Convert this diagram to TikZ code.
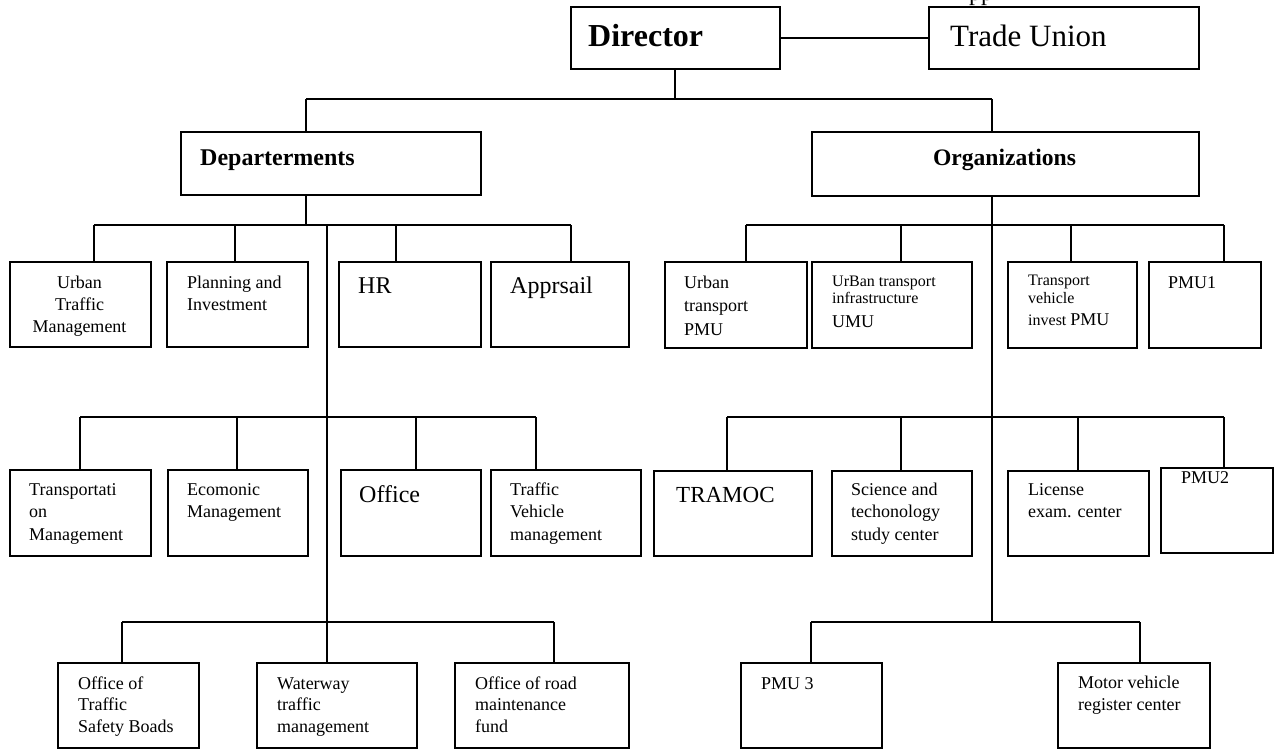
\documentclass[tikz,border=0pt]{standalone}
\usepackage{fontspec}
\setmainfont{Liberation Serif}
% box: name, x1, y1, x2, y2 (pixel-like units, y downwards)
\newcommand\orgbox[5]{%
  \node[box, anchor=north west, minimum width={#4-#2}, minimum height={#5-#3}] (#1) at (#2,#3) {};}
% left-aligned label: name, x, first baseline, size, line skip, lines
\newcommand\boxtext[6]{%
  \node[lbl, font=\fontsize{#4}{#5}\selectfont] (#1) at (#2,#3) {\begin{tabular}[t]{@{}l@{}}#6\end{tabular}};}
% drop line from a bus point down to the top of a box
\newcommand\drop[3]{%
  \coordinate (#1) at #2; \draw[wire] (#1) -- (#1 |- #3.north);}
\begin{document}
\begin{tikzpicture}[x=1pt,y=-1pt,
  box/.style={draw, line width=1.8pt, inner sep=0pt},
  wire/.style={line width=1.6pt},
  lbl/.style={inner sep=0pt, anchor=base west}]
\useasboundingbox (0,0) rectangle (1279,749);
\fill[white] (0,0) rectangle (1279,749);

% ---- top level ----
\begin{scope}
  \clip (0,0) rectangle (1279,749);
  \node[lbl, font=\fontsize{24}{28}\selectfont] (cut) at (969,0.5) {pp};
\end{scope}
\orgbox{dir}{570}{6}{779}{68}
\orgbox{tu}{928}{6}{1198}{68}
\node[lbl, font=\fontsize{32}{36}\selectfont\bfseries] (dir-t) at (588,47) {Director};
\node[lbl, font=\fontsize{31}{36}\selectfont] (tu-t) at (950,47) {Trade Union};
\draw[wire] (dir) -- (tu);

\orgbox{dept}{180}{131}{480}{194}
\orgbox{org}{811}{131}{1198}{195}
\node[lbl, font=\fontsize{24}{28}\selectfont\bfseries] (dept-t) at (200,165) {Departerments};
\node[inner sep=0pt, anchor=base, font=\fontsize{23.6}{28}\selectfont\bfseries] (org-t) at (1004.5,165) {Organizations};

\coordinate (b0) at (675,99);
\draw[wire] (b0 |- dir.south) -- (b0);
\coordinate (b0l) at (306,99);
\coordinate (b0r) at (992,99);
\draw[wire] (b0l) -- (b0r);
\draw[wire] (b0l) -- (b0l |- dept.north);
\draw[wire] (b0r) -- (b0r |- org.north);

% ---- departments, row 1 ----
\orgbox{utm}{9}{261}{150}{346}
\orgbox{pi}{166}{261}{307}{346}
\orgbox{hr}{338}{261}{480}{346}
\orgbox{app}{490}{261}{628}{346}
\node[inner sep=0pt, anchor=base, font=\fontsize{18}{22}\selectfont] (utm-t) at (79.5,288)
  {\begin{tabular}[t]{@{}c@{}}Urban\\Traffic\\Management\end{tabular}};
\boxtext{pi-t}{187}{288}{18}{22.5}{Planning and\\Investment}
\boxtext{hr-t}{358}{293}{24}{28}{HR}
\boxtext{app-t}{510}{293}{24}{28}{Apprsail}

\coordinate (d0) at (306,225);
\draw[wire] (dept.south -| d0) -- (d0);
\coordinate (d1l) at (94,225);
\coordinate (d1r) at (571,225);
\draw[wire] (d1l) -- (d1r);
\draw[wire] (d1l) -- (d1l |- utm.north);
\drop{j-pi}{(235,225)}{pi}
\drop{j-hr}{(396,225)}{hr}
\draw[wire] (d1r) -- (d1r |- app.north);

% trunk of the departments
\coordinate (dt) at (327,225);

% ---- departments, row 2 ----
\orgbox{tm}{9}{469}{150}{555}
\orgbox{em}{167}{469}{307}{555}
\orgbox{off}{340}{469}{480}{555}
\orgbox{tvm}{490}{469}{640}{555}
\boxtext{tm-t}{29}{495}{18}{22.5}{Transportati\\on\\Management}
\boxtext{em-t}{187}{495}{18}{22.5}{Ecomonic\\Management}
\boxtext{off-t}{359}{502}{24}{28}{Office}
\boxtext{tvm-t}{510}{495}{18}{22.5}{Traffic\\Vehicle\\management}

\coordinate (d2l) at (80,417);
\coordinate (d2r) at (536,417);
\draw[wire] (d2l) -- (d2r);
\draw[wire] (d2l) -- (d2l |- tm.north);
\drop{j-em}{(237,417)}{em}
\drop{j-off}{(416,417)}{off}
\draw[wire] (d2r) -- (d2r |- tvm.north);

% ---- departments, row 3 ----
\orgbox{otsb}{57}{662}{198}{747}
\orgbox{wtm}{256}{662}{416}{747}
\orgbox{orm}{454}{662}{628}{747}
\boxtext{otsb-t}{78}{689}{18}{21.5}{Office of\\Traffic\\Safety Boads}
\boxtext{wtm-t}{277}{689}{18}{21.5}{Waterway\\traffic\\management}
\boxtext{orm-t}{475}{689}{18}{21.5}{Office of road\\maintenance\\fund}

\coordinate (d3l) at (122,622);
\coordinate (d3r) at (554,622);
\draw[wire] (d3l) -- (d3r);
\draw[wire] (d3l) -- (d3l |- otsb.north);
\draw[wire] (d3r) -- (d3r |- orm.north);
\draw[wire] (dt) -- (dt |- wtm.north);

% ---- organizations, row 1 ----
\orgbox{utp}{664}{261}{806}{347}
\orgbox{uti}{811}{261}{971}{347}
\orgbox{tvi}{1007}{261}{1136}{347}
\orgbox{pmu1}{1148}{261}{1260}{347}
\boxtext{utp-t}{684}{288}{18}{23.5}{Urban\\transport\\PMU}
\boxtext{uti-t}{832}{286}{16}{17}{UrBan transport\\infrastructure\\[7pt]{\fontsize{18}{22}\selectfont UMU}}
\boxtext{tvi-t}{1028}{285}{16}{18}{Transport\\vehicle\\[4pt]invest {\fontsize{18}{22}\selectfont PMU}}
\boxtext{pmu1-t}{1168}{288}{18}{22}{PMU1}

\coordinate (o0) at (992,225);
\draw[wire] (org.south -| o0) -- (o0);
\coordinate (o1l) at (746,225);
\coordinate (o1r) at (1224,225);
\draw[wire] (o1l) -- (o1r);
\draw[wire] (o1l) -- (o1l |- utp.north);
\drop{j-uti}{(901,225)}{uti}
\drop{j-tvi}{(1071,225)}{tvi}
\draw[wire] (o1r) -- (o1r |- pmu1.north);

% ---- organizations, row 2 ----
\orgbox{tramoc}{653}{470}{811}{555}
\orgbox{sts}{831}{470}{971}{555}
\orgbox{lec}{1007}{470}{1148}{555}
\orgbox{pmu2}{1160}{467}{1272}{552}
\boxtext{tramoc-t}{676}{502}{23}{28}{TRAMOC}
\boxtext{sts-t}{851}{495}{18}{22.5}{Science and\\techonology\\study center}
\boxtext{lec-t}{1028}{495}{18}{22.5}{License\\exam. center}
\boxtext{pmu2-t}{1181}{483}{18}{22}{PMU2}

\coordinate (o2l) at (727,417);
\coordinate (o2r) at (1224,417);
\draw[wire] (o2l) -- (o2r);
\draw[wire] (o2l) -- (o2l |- tramoc.north);
\drop{j-sts}{(901,417)}{sts}
\drop{j-lec}{(1078,417)}{lec}
\draw[wire] (o2r) -- (o2r |- pmu2.north);

% ---- organizations, row 3 ----
\orgbox{pmu3}{740}{662}{881}{747}
\orgbox{mvr}{1057}{662}{1209}{747}
\boxtext{pmu3-t}{761}{689}{18}{22}{PMU 3}
\boxtext{mvr-t}{1078}{688}{18}{22}{Motor vehicle\\register center}

\coordinate (o3l) at (811,622);
\coordinate (o3r) at (1140,622);
\coordinate (o3) at (992,622);
\draw[wire] (o0) -- (o3);
\draw[wire] (o3l) -- (o3r);
\draw[wire] (o3l) -- (o3l |- pmu3.north);
\draw[wire] (o3r) -- (o3r |- mvr.north);
\end{tikzpicture}
\end{document}
